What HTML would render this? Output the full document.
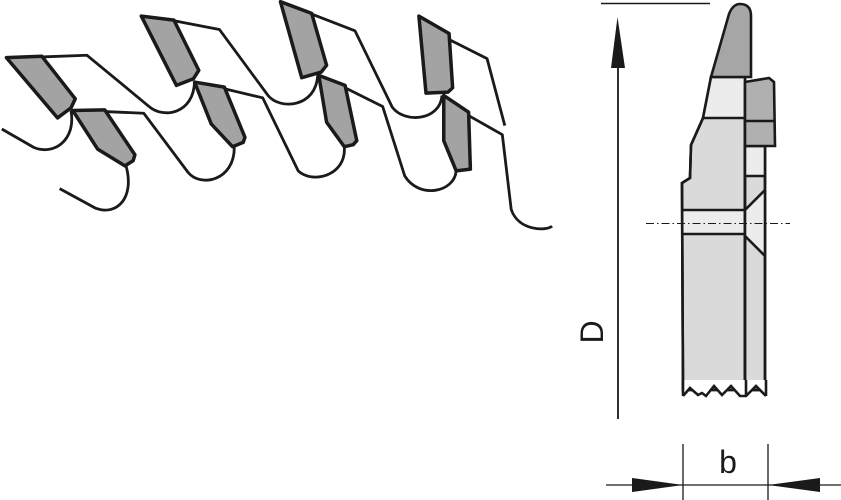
<!DOCTYPE html>
<html><head><meta charset="utf-8"><style>html,body{margin:0;padding:0;background:#fff;}svg{display:block}</style></head>
<body>
<svg width="841" height="500" viewBox="0 0 841 500" xmlns="http://www.w3.org/2000/svg">
<g transform="scale(0.355,0.335)" fill="none" stroke="#1a1a1a" stroke-linejoin="round">
 <g stroke-width="2.8">
  <path vector-effect="non-scaling-stroke" d="M118,170 L245,165 L420,318 C460,355 545,340 548,245"/>
  <path vector-effect="non-scaling-stroke" d="M490,62 L618,88 L755,285 C790,330 890,320 895,225"/>
  <path vector-effect="non-scaling-stroke" d="M878,42 L1000,92 L1105,320 C1140,370 1240,360 1245,285"/>
  <path vector-effect="non-scaling-stroke" d="M1265,118 L1372,175 L1422,375"/>
  <path vector-effect="non-scaling-stroke" d="M5,385 L95,440 C150,465 215,420 200,330"/>
  <path vector-effect="non-scaling-stroke" d="M295,333 L405,338 L530,515 C565,560 660,540 660,440"/>
  <path vector-effect="non-scaling-stroke" d="M632,265 L740,292 L840,510 C880,550 975,525 970,440"/>
  <path vector-effect="non-scaling-stroke" d="M972,262 L1078,318 L1140,525 C1180,595 1280,575 1285,510"/>
  <path vector-effect="non-scaling-stroke" d="M1320,345 L1415,402 L1440,625 C1460,690 1540,690 1555,675"/>
  <path vector-effect="non-scaling-stroke" d="M168,563 L270,622 C330,645 380,590 355,495"/>
 </g>
 <g fill="#a3a3a3" stroke-width="3.5">
  <polygon vector-effect="non-scaling-stroke" points="18,172 118,168 212,295 200,322 162,352"/>
  <polygon vector-effect="non-scaling-stroke" points="398,48 490,60 560,210 545,235 497,255"/>
  <polygon vector-effect="non-scaling-stroke" points="790,5 878,40 920,195 905,215 850,232"/>
  <polygon vector-effect="non-scaling-stroke" points="1180,48 1265,100 1275,262 1262,275 1200,278"/>
  <polygon vector-effect="non-scaling-stroke" points="205,330 295,328 380,462 375,480 352,495 275,445"/>
  <polygon vector-effect="non-scaling-stroke" points="548,245 632,260 690,410 685,425 655,438 595,370"/>
  <polygon vector-effect="non-scaling-stroke" points="898,225 972,255 1005,420 995,432 970,438 920,365"/>
  <polygon vector-effect="non-scaling-stroke" points="1250,285 1320,335 1325,505 1285,510 1250,420"/>
 </g>
</g>

<g stroke="#1a1a1a" stroke-linejoin="miter">
 <line x1="601" y1="3.5" x2="710" y2="3.5" stroke-width="1.5"/>
 <line x1="618" y1="60" x2="618" y2="419" stroke-width="1.8"/>
 <polygon points="617.5,17 611,68 625,68" fill="#1a1a1a" stroke="none"/>
 <polygon points="711,77 745,77 745,390 683,390 682,183 690,178 691,145 703,118" fill="#dadada" stroke-width="2.6"/>
 <polygon points="711,77 745,77 745,118 703,118" fill="#ececec" stroke="none"/>
 <rect x="683" y="210" width="62" height="24" fill="#ececec" stroke="none"/>
 <polygon points="711,77 745,77 745,390 683,390 682,183 690,178 691,145 703,118" fill="none" stroke-width="2.6"/>
 <line x1="703" y1="118" x2="745" y2="118" stroke-width="2.6"/>
 <line x1="682" y1="210" x2="745" y2="210" stroke-width="2.6"/>
 <line x1="682" y1="234" x2="745" y2="234" stroke-width="2.6"/>
 <rect x="745" y="146" width="20" height="244" fill="#dadada" stroke-width="2.6"/>
 <rect x="746" y="147" width="18" height="29" fill="#ececec" stroke="none"/>
 <polygon points="746,210 764,192 764,255 746,236" fill="#ececec" stroke="none"/>
 <rect x="745" y="146" width="20" height="244" fill="none" stroke-width="2.6"/>
 <line x1="745" y1="176" x2="765" y2="176" stroke-width="2.6"/>
 <line x1="745" y1="210" x2="765" y2="190" stroke-width="2.6"/>
 <line x1="745" y1="236" x2="765" y2="256" stroke-width="2.6"/>
 <polygon points="745,82 769,78 774,82 775,146 745,146" fill="#b0b0b0" stroke-width="2.6"/>
 <line x1="745" y1="121" x2="775" y2="121" stroke-width="2.6"/>
 <path d="M711,77 L729,14 Q733,4 740,4 Q751,4 751,16 L751,77 Z" fill="#a6a6a6" stroke-width="2.6"/>
 <polygon points="683,380 767,380 767,396 756,386 746,396 740,396 731,386 722,395 714,386 706,396 702,393 698,395 690,388 683,396" fill="#fff" stroke="none"/>
 <polyline points="683,396 690,388 698,395 702,393 706,396 714,386 722,395 731,386 740,396 746,396 756,386 766,396" fill="none" stroke-width="2.6"/>
 <line x1="683" y1="380" x2="683" y2="396" stroke-width="2.6"/>
 <line x1="746" y1="380" x2="746" y2="396" stroke-width="2.6"/>
 <line x1="766" y1="380" x2="766" y2="396" stroke-width="2.6"/>
 <line x1="646" y1="223.5" x2="790" y2="223.5" stroke-width="0.9" stroke-dasharray="8,3,1.5,3"/>
 <line x1="683" y1="444" x2="683" y2="500" stroke-width="1.3"/>
 <line x1="768" y1="444" x2="768" y2="500" stroke-width="1.3"/>
 <line x1="606" y1="485" x2="841" y2="485" stroke-width="1.3"/>
 <polygon points="683,485 632,478 632,492" fill="#1a1a1a" stroke="none"/>
 <polygon points="768,485 820,478 820,492" fill="#1a1a1a" stroke="none"/>
</g>
<text x="728" y="473" font-family="Liberation Sans, sans-serif" font-size="32" text-anchor="middle" fill="#1a1a1a">b</text>
<text transform="translate(603,332) rotate(-90)" font-family="Liberation Sans, sans-serif" font-size="32" text-anchor="middle" fill="#1a1a1a">D</text>
</svg>
</body></html>
